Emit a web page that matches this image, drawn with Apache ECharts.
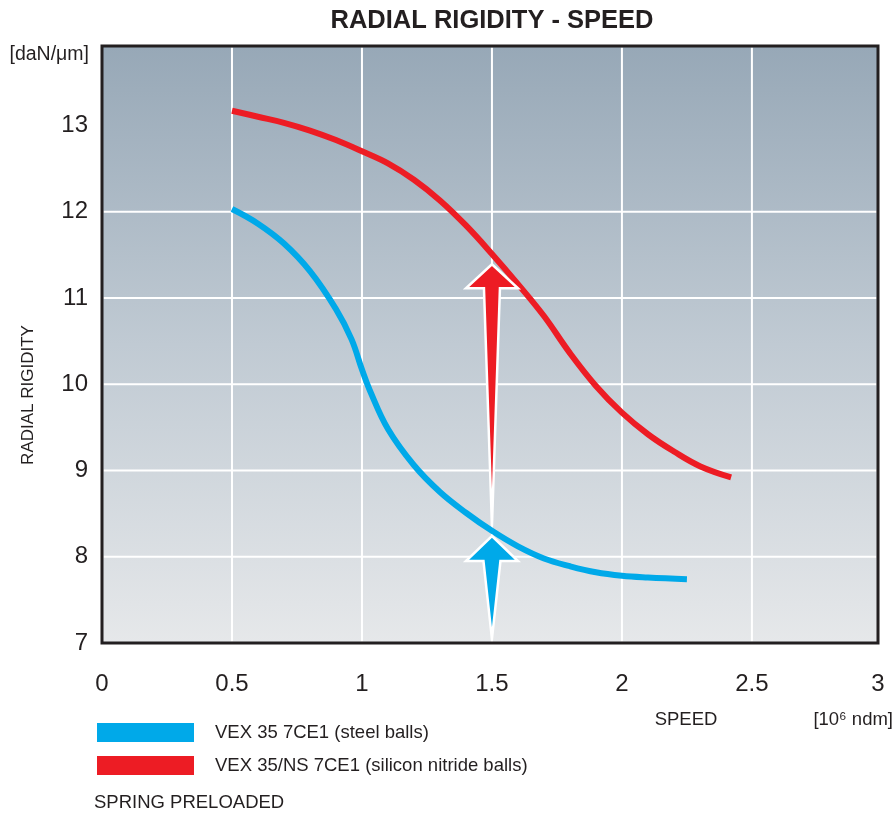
<!DOCTYPE html>
<html>
<head>
<meta charset="utf-8">
<script src="https://cdn.jsdelivr.net/npm/echarts@6/dist/echarts.min.js"></script>
<style>
html,body{margin:0;padding:0;background:#fff;}
#c{width:895px;height:813px;}
</style>
</head>
<body>
<div id="c"></div>
<script>
// ---- data ----
const titleText = 'RADIAL RIGIDITY - SPEED';
const seriesNames = ['VEX 35 7CE1 (steel balls)', 'VEX 35/NS 7CE1 (silicon nitride balls)'];
const steelBalls = [
  [0.50, 12.03], [0.60, 11.86], [0.70, 11.63], [0.80, 11.31], [0.90, 10.87],
  [0.96, 10.52], [1.00, 10.17], [1.03, 9.93], [1.10, 9.48], [1.20, 9.06],
  [1.30, 8.75], [1.40, 8.51], [1.50, 8.30], [1.60, 8.12], [1.70, 7.98],
  [1.80, 7.89], [1.90, 7.82], [2.00, 7.78], [2.10, 7.76], [2.25, 7.74]
];
const siliconNitride = [
  [0.50, 13.17], [0.60, 13.10], [0.70, 13.03], [0.80, 12.94], [0.90, 12.83],
  [1.00, 12.70], [1.10, 12.56], [1.20, 12.37], [1.30, 12.13], [1.40, 11.84],
  [1.50, 11.51], [1.60, 11.16], [1.70, 10.79], [1.80, 10.36], [1.90, 9.98],
  [2.00, 9.67], [2.10, 9.42], [2.20, 9.22], [2.30, 9.05], [2.42, 8.92]
];
// arrows: [x, tail value, tip value]
const redArrow = [1.5, 8.36, 11.39];
const blueArrow = [1.5, 7.05, 8.24];
const xGridValues = [0.5, 1, 1.5, 2, 2.5];
const yGridValues = [8, 9, 10, 11, 12];
const xRange = [0, 2.985];
const yRange = [7, 13.92];
const yUnit = '[daN/\u03bcm]';
const yName = 'RADIAL RIGIDITY';
const xName = 'SPEED';
const xUnit = '[10\u2076 ndm]';
const note = 'SPRING PRELOADED';

// ---- styles ----
const FONT = '"Liberation Sans", Arial, Helvetica, sans-serif';
const TXT = '#231f20';
const BLUE = '#00a9e9';
const RED = '#ed1c24';

const chart = echarts.init(document.getElementById('c'), null, {renderer: 'canvas'});

function gridRender(vertical) {
  return function (params, api) {
    const v = api.value(0);
    const cs = params.coordSys;
    let x1, y1, x2, y2;
    if (vertical) {
      const p = api.coord([v, yRange[0]]);
      x1 = x2 = p[0]; y1 = cs.y + 1.5; y2 = cs.y + cs.height - 1.5;
    } else {
      const p = api.coord([xRange[0], v]);
      y1 = y2 = p[1]; x1 = cs.x + 1.5; x2 = cs.x + cs.width - 1.5;
    }
    return {type: 'line', shape: {x1, y1, x2, y2}, style: {stroke: '#ffffff', lineWidth: 2}};
  };
}

function arrowRender(color, headHalf, headLen, shaftHalf) {
  return function (params, api) {
    const tail = api.coord([api.value(0), api.value(1)]);
    const tip = api.coord([api.value(0), api.value(2)]);
    const x = tip[0];
    const by = tip[1] + headLen;
    const pts = [
      [x, tip[1]],
      [x + headHalf, by],
      [x + shaftHalf, by],
      [tail[0], tail[1]],
      [x - shaftHalf, by],
      [x - headHalf, by]
    ];
    return {
      type: 'polygon',
      shape: {points: pts},
      style: {fill: color, stroke: '#ffffff', lineWidth: 2.5, lineJoin: 'miter'}
    };
  };
}

const option = {
  animation: false,
  backgroundColor: '#ffffff',
  textStyle: {fontFamily: FONT},
  grid: {
    left: 102, right: 17, top: 46, bottom: 170,
    show: true,
    borderWidth: 0,
    backgroundColor: {
      type: 'linear', x: 0, y: 0, x2: 0, y2: 1,
      colorStops: [
        {offset: 0, color: '#97a8b7'},
        {offset: 0.5, color: '#c0cad3'},
        {offset: 1, color: '#e6e8ea'}
      ]
    }
  },
  legend: {
    orient: 'vertical',
    left: 97, top: 723, padding: 0,
    itemWidth: 97, itemHeight: 19, itemGap: 14,
    icon: 'rect',
    data: seriesNames,
    textStyle: {fontFamily: FONT, fontSize: 18.5, color: TXT, padding: [0, 0, 0, 16]},
    selectedMode: false
  },
  xAxis: {
    type: 'value',
    min: xRange[0], max: xRange[1], interval: 0.5,
    axisLine: {show: false}, axisTick: {show: false}, splitLine: {show: false},
    axisLabel: {
      show: true, showMinLabel: true, showMaxLabel: true,
      margin: 29, fontSize: 24, color: TXT, fontFamily: FONT,
      formatter: v => String(Math.round(v * 2) / 2)
    }
  },
  yAxis: {
    type: 'value',
    min: yRange[0], max: yRange[1], interval: 1,
    axisLine: {show: false}, axisTick: {show: false}, splitLine: {show: false},
    axisLabel: {
      showMinLabel: true, showMaxLabel: false,
      margin: 14, fontSize: 24, color: TXT, fontFamily: FONT
    }
  },
  series: [
    {
      type: 'custom', name: 'vgrid', z: 1, silent: true,
      renderItem: gridRender(true),
      data: xGridValues.map(v => [v])
    },
    {
      type: 'custom', name: 'hgrid', z: 1, silent: true,
      renderItem: gridRender(false),
      data: yGridValues.map(v => [v])
    },
    {
      type: 'line', name: seriesNames[0], z: 3,
      data: steelBalls, smooth: 0.4, showSymbol: false, symbol: 'none',
      lineStyle: {color: BLUE, width: 6, cap: 'butt'},
      itemStyle: {color: BLUE}
    },
    {
      type: 'line', name: seriesNames[1], z: 3,
      data: siliconNitride, smooth: 0.4, showSymbol: false, symbol: 'none',
      lineStyle: {color: RED, width: 6, cap: 'butt'},
      itemStyle: {color: RED}
    },
    {
      type: 'custom', name: 'redArrow', z: 4, silent: true,
      renderItem: arrowRender(RED, 26, 24, 8),
      data: [redArrow]
    },
    {
      type: 'custom', name: 'blueArrow', z: 4, silent: true,
      renderItem: arrowRender(BLUE, 26, 25, 8.5),
      data: [blueArrow]
    },
    {
      type: 'custom', name: 'frame', z: 6, silent: true,
      renderItem: function (params, api) {
        const cs = params.coordSys;
        return {type: 'rect', shape: {x: cs.x, y: cs.y, width: cs.width, height: cs.height},
          style: {fill: null, stroke: TXT, lineWidth: 3}};
      },
      data: [[0]]
    }
  ],
  graphic: [
    {type: 'text', x: 492, y: 21, style: {text: titleText, font: 'bold 25.5px ' + FONT, fill: TXT, textAlign: 'center', textVerticalAlign: 'middle'}},
    {type: 'text', x: 89, y: 55, style: {text: yUnit, font: '19.5px ' + FONT, fill: TXT, textAlign: 'right', textVerticalAlign: 'middle'}},
    {type: 'text', x: 28, y: 395, rotation: Math.PI / 2, style: {text: yName, font: '17px ' + FONT, fill: TXT, textAlign: 'center', textVerticalAlign: 'middle'}},
    {type: 'text', x: 686, y: 720, style: {text: xName, font: '18.5px ' + FONT, fill: TXT, textAlign: 'center', textVerticalAlign: 'middle'}},
    {type: 'text', x: 893, y: 720, style: {text: xUnit, font: '18.5px ' + FONT, fill: TXT, textAlign: 'right', textVerticalAlign: 'middle'}},
    {type: 'text', x: 94, y: 803, style: {text: note, font: '18.5px ' + FONT, fill: TXT, textAlign: 'left', textVerticalAlign: 'middle'}}
  ]
};
chart.setOption(option);
</script>
</body>
</html>
